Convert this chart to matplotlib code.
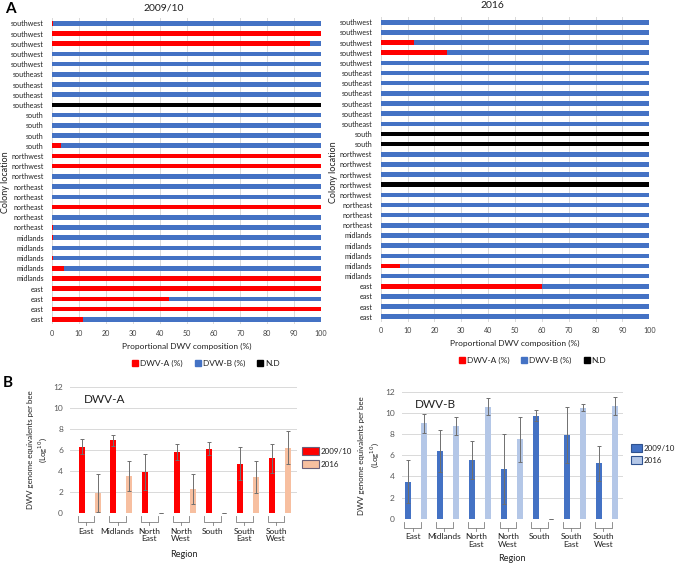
import numpy as np
import matplotlib
matplotlib.use('Agg')
import matplotlib.pyplot as plt
from matplotlib.patches import Patch
from matplotlib.lines import Line2D

plt.rcParams['font.family'] = ['Lato', 'DejaVu Sans']

# ---------------- Panel A: colony rows, listed top to bottom ----------------
# DWV-A share in %, the rest is DWV-B; nan = N.D (not determined)
labels_0910 = (['southwest'] * 5 + ['southeast'] * 4 + ['south'] * 4 + ['northwest'] * 3
               + ['northeast'] * 5 + ['midlands'] * 5 + ['east'] * 4)
dwva_0910 = [0.5, 100, 96, 0, 0,
             0, 0, 0, np.nan,
             0, 0, 0, 3.5,
             100, 100, 0,
             0, 0, 100, 0, 0.5,
             0.3, 0, 0.5, 4.5, 100,
             100, 43.5, 100, 11.5]

labels_2016 = (['southwest'] * 5 + ['southeast'] * 6 + ['south'] * 2 + ['northwest'] * 5
               + ['northeast'] * 3 + ['midlands'] * 5 + ['east'] * 4)
dwva_2016 = [0, 0, 12.5, 24.5, 0,
             0, 0, 0, 0, 0, 0,
             np.nan, np.nan,
             0, 0, 0, np.nan, 0,
             0, 0, 0,
             0, 0, 0, 7, 0,
             60, 0, 0, 0]

# ---------------- Panel B: genome equivalents per bee (log10) ----------------
regions = ['East', 'Midlands', 'North\nEast', 'North\nWest', 'South', 'South\nEast', 'South\nWest']
a_0910 = [6.3, 6.9, 3.9, 5.8, 6.1, 4.7, 5.2]
a_0910_err = [0.7, 0.5, 1.7, 0.8, 0.6, 1.55, 1.4]
a_2016 = [1.9, 3.5, 0, 2.3, 0, 3.4, 6.2]
a_2016_err = [1.8, 1.4, 0, 1.4, 0, 1.5, 1.55]
b_0910 = [3.5, 6.4, 5.55, 4.7, 9.75, 7.9, 5.25]
b_0910_err = [2.05, 1.95, 1.8, 3.3, 0.5, 2.65, 1.65]
b_2016 = [9.0, 8.8, 10.6, 7.5, 0, 10.5, 10.65]
b_2016_err = [0.9, 0.85, 0.8, 2.1, 0, 0.35, 0.85]

RED = '#ff0000'
BLUE = '#4472c4'
LIGHT_BLUE = '#b4c7e7'
SALMON = '#f7bfa0'
GRID = '#d9d9d9'
TEXT = '#404040'


def composition(ax, labels, dwva, legend_labels, legend_x):
    a = np.array(dwva, dtype=float)
    nd = np.isnan(a)
    a_share = np.where(nd, 0, a)
    b_share = np.where(nd, 0, 100 - a)
    nd_share = np.where(nd, 100, 0)
    y = np.arange(len(labels))

    ax.barh(y, a_share, height=0.45, color=RED)
    ax.barh(y, b_share, left=a_share, height=0.45, color=BLUE)
    ax.barh(y, nd_share, height=0.45, color='black')

    ax.set_yticks(y)
    ax.set_yticklabels(labels)
    ax.set_ylim(len(labels) - 0.5, -0.5)
    ax.set_xlim(0, 100)
    ax.set_xticks(range(0, 101, 10))
    ax.grid(axis='x', color=GRID, lw=0.7)
    ax.set_axisbelow(True)
    for s in ax.spines.values():
        s.set_visible(False)
    ax.tick_params(axis='both', length=0, labelsize=5.1, labelcolor='#202020')
    ax.tick_params(axis='y', pad=6)
    ax.tick_params(axis='x', pad=4, labelcolor=TEXT)
    ax.set_xlabel('Proportional DWV composition (%)', fontsize=6, color='#202020', labelpad=4)

    handles = [Line2D([], [], marker='s', ls='none', color=c, markersize=3.8)
               for c in (RED, BLUE, 'black')]
    ax.legend(handles, legend_labels, loc='center', bbox_to_anchor=(legend_x, -0.127), ncol=3,
              frameon=False, fontsize=6, handletextpad=0.1, columnspacing=1.3,
              handlelength=1.0, labelcolor='#202020')


def genome(ax, v1, e1, v2, e2, c1, c2, edge, title, shift, leg_anchor, leg_size, region_y):
    x = np.arange(len(regions))
    ax.bar(x - 0.25, v1, width=0.19, color=c1, zorder=2)
    ax.bar(x + 0.25, v2, width=0.19, color=c2, zorder=2)
    ax.errorbar(x - 0.25, v1, yerr=e1, fmt='none', ecolor='#6f6f6f', elinewidth=0.7,
                capsize=1.5, capthick=0.7, zorder=3)
    ax.errorbar(x + 0.25, v2, yerr=e2, fmt='none', ecolor='#6f6f6f', elinewidth=0.7,
                capsize=1.5, capthick=0.7, zorder=3)

    ax.set_ylim(0, 12)
    ax.set_yticks(range(0, 13, 2))
    ax.set_xticks([])
    ax.set_xlim(-0.5 + shift[0], 6.5 + shift[1])
    ax.grid(axis='y', color=GRID, lw=0.7)
    ax.set_axisbelow(True)
    for s in ax.spines.values():
        s.set_visible(False)
    ax.tick_params(axis='y', length=0, labelsize=6, labelcolor='#595959', pad=5)
    ax.set_ylabel('DWV genome equivalents per bee\n(Log$^{10}$)', fontsize=5.7,
                  color='#202020', labelpad=3, linespacing=1.3)
    ax.text(0.06, 0.9, title, transform=ax.transAxes, fontsize=8.5, color='#202020', va='center')

    # Excel-style category brackets below the axis
    trans = ax.get_xaxis_transform()
    for xi, name in zip(x - 0.12, regions):
        ax.plot([xi - 0.26, xi - 0.26, xi + 0.26, xi + 0.26], [-0.025, -0.07, -0.07, -0.025],
                color='#7f7f7f', lw=0.6, transform=trans, clip_on=False)
        ax.plot([xi, xi], [-0.07, -0.095], color='#7f7f7f', lw=0.6, transform=trans, clip_on=False)
        ax.text(xi, -0.115, name, transform=trans, ha='center', va='top', fontsize=6,
                color='#202020', linespacing=1.1)
    ax.text(0.5, region_y, 'Region', transform=ax.transAxes, ha='center', va='center',
            fontsize=6.5, color='#202020')

    handles = [Patch(facecolor=c1, edgecolor=edge, lw=0.8), Patch(facecolor=c2, edgecolor=edge, lw=0.8)]
    ax.legend(handles, ['2009/10', '2016'], loc='center left', bbox_to_anchor=leg_anchor,
              frameon=False, fontsize=5.8, handlelength=leg_size[0], handleheight=leg_size[1],
              handletextpad=0.25, labelspacing=0.6, labelcolor='#202020', borderaxespad=0)


fig = plt.figure(figsize=(6.76, 5.63), dpi=100)
W, H = 676.0, 563.0


def rect(x0, y0, x1, y1):
    return [x0 / W, 1 - y1 / H, (x1 - x0) / W, (y1 - y0) / H]


ax1 = fig.add_axes(rect(52, 18.2, 321, 324.4))
ax2 = fig.add_axes(rect(380.7, 17.2, 649.3, 321.8))
ax3 = fig.add_axes(rect(70, 386.7, 297, 513))
ax4 = fig.add_axes(rect(401.7, 391.7, 623, 518.7))

composition(ax1, labels_0910, dwva_0910, ['DWV-A (%)', 'DVW-B (%)', 'N.D'], 0.57)
composition(ax2, labels_2016, dwva_2016, ['DWV-A (%)', 'DWV-B (%)', 'N.D'], 0.563)

genome(ax3, a_0910, a_0910_err, a_2016, a_2016_err, RED, SALMON, '#6a5f7a', 'DWV-A',
       (-0.12, 0.04), (1.01, 0.44), (2.0, 1.2), -0.33)
genome(ax4, b_0910, b_0910_err, b_2016, b_2016_err, BLUE, LIGHT_BLUE, '#2f528f', 'DWV-B',
       (0.04, 0.0), (1.02, 0.51), (1.35, 1.05), -0.31)

# titles, panel letters, side labels
fig.text(163.5 / W, 1 - 8 / H, '2009/10', ha='center', va='center', fontsize=7.5, color='#202020')
fig.text(492.5 / W, 1 - 6 / H, '2016', ha='center', va='center', fontsize=7.5, color='#202020')
fig.text(10 / W, 1 - 9 / H, 'A', ha='center', va='center', fontsize=11, fontweight='bold')
fig.text(8 / W, 1 - 383 / H, 'B', ha='center', va='center', fontsize=11, fontweight='bold')
fig.text(6 / W, 1 - 182 / H, 'Colony location', rotation=90, ha='center', va='center',
         fontsize=6.5, color='#202020')
fig.text(334 / W, 1 - 172 / H, 'Colony location', rotation=90, ha='center', va='center',
         fontsize=6.5, color='#202020')

fig.savefig('out.png', dpi=100)
